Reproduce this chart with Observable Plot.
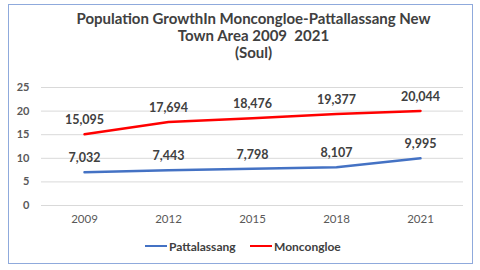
<!DOCTYPE html>
<html>
<head>
<meta charset="utf-8">
<script src="https://cdn.jsdelivr.net/npm/d3@7"></script>
<script src="https://cdn.jsdelivr.net/npm/@observablehq/plot@0.6"></script>
<style>
  html, body { margin: 0; padding: 0; background: #fff; width: 480px; height: 270px; overflow: hidden; }
  body { position: relative; font-family: Lato, "Open Sans", sans-serif; }
  #box { position: absolute; left: 8px; top: 4px; width: 465px; height: 260px; border: 1.5px solid #8faadc; box-sizing: border-box; background: #fff; }
  #title { position: absolute; left: 0; top: 5px; width: 100%; text-align: center; font-weight: bold; font-size: 15px; line-height: 17px; color: #404040; padding-left: 26px; box-sizing: border-box; }
  #chart { position: absolute; left: 1px; top: 58px; }
  #legend { position: absolute; left: 0; top: 234px; width: 100%; font-size: 12px; font-weight: bold; color: #404040; }
  .item { position: absolute; top: 0; display: flex; align-items: center; height: 14px; }
  .sw { display: inline-block; width: 22px; height: 2.5px; margin-right: 2px; }
</style>
</head>
<body>
<div id="box">
  <div id="title">Population GrowthIn Moncongloe-Pattallassang New<br>Town Area 2009&nbsp; 2021<br>(Soul)</div>
  <div id="chart"></div>
  <div id="legend">
    <div class="item" style="left:136px"><span class="sw" style="background:#4472c4"></span>Pattalassang</div>
    <div class="item" style="left:241px"><span class="sw" style="background:#ff0000"></span>Moncongloe</div>
  </div>
</div>
<script>
const years = ["2009", "2012", "2015", "2018", "2021"];
const pattallassang = [7032, 7443, 7798, 8107, 9995];
const moncongloe = [15095, 17694, 18476, 19377, 20044];
const yTicks = [0, 5, 10, 15, 20, 25];

const seriesNames = ["Pattalassang", "Moncongloe"];
const seriesColors = ["#4472c4", "#ff0000"];
const data = [];
years.forEach((yr, i) => {
  data.push({year: yr, series: "Pattalassang", value: pattallassang[i] / 1000, label: d3.format(",")(pattallassang[i])});
  data.push({year: yr, series: "Moncongloe", value: moncongloe[i] / 1000, label: d3.format(",")(moncongloe[i])});
});

const chart = Plot.plot({
  width: 462,
  height: 171,
  marginLeft: 31,
  marginRight: 9,
  marginTop: 24,
  marginBottom: 29,
  style: {fontFamily: "Lato, 'Open Sans', sans-serif", background: "transparent", overflow: "visible"},
  x: {type: "point", domain: years, padding: 0.5, label: null, tickSize: 0, tickPadding: 10},
  y: {domain: [0, 25], ticks: yTicks, label: null, tickSize: 0, tickPadding: 12},
  color: {domain: seriesNames, range: seriesColors},
  marks: [
    Plot.gridY(yTicks, {stroke: "#d9d9d9", strokeOpacity: 1, strokeWidth: 1}),
    Plot.axisY(yTicks, {tickSize: 0, tickPadding: 12, fontSize: 11, fontWeight: "bold", fill: "#595959", label: null}),
    Plot.axisX({tickSize: 0, tickPadding: 9, fontSize: 11.5, fill: "#595959", label: null}),
    Plot.line(data, {x: "year", y: "value", z: "series", stroke: "series", strokeWidth: 2.5, curve: "linear"}),
    Plot.text(data, {x: "year", y: "value", text: "label", dy: -14, fontSize: 12.5, fontWeight: "bold", fill: "#404040"})
  ]
});
document.getElementById("chart").appendChild(chart);
</script>
</body>
</html>
